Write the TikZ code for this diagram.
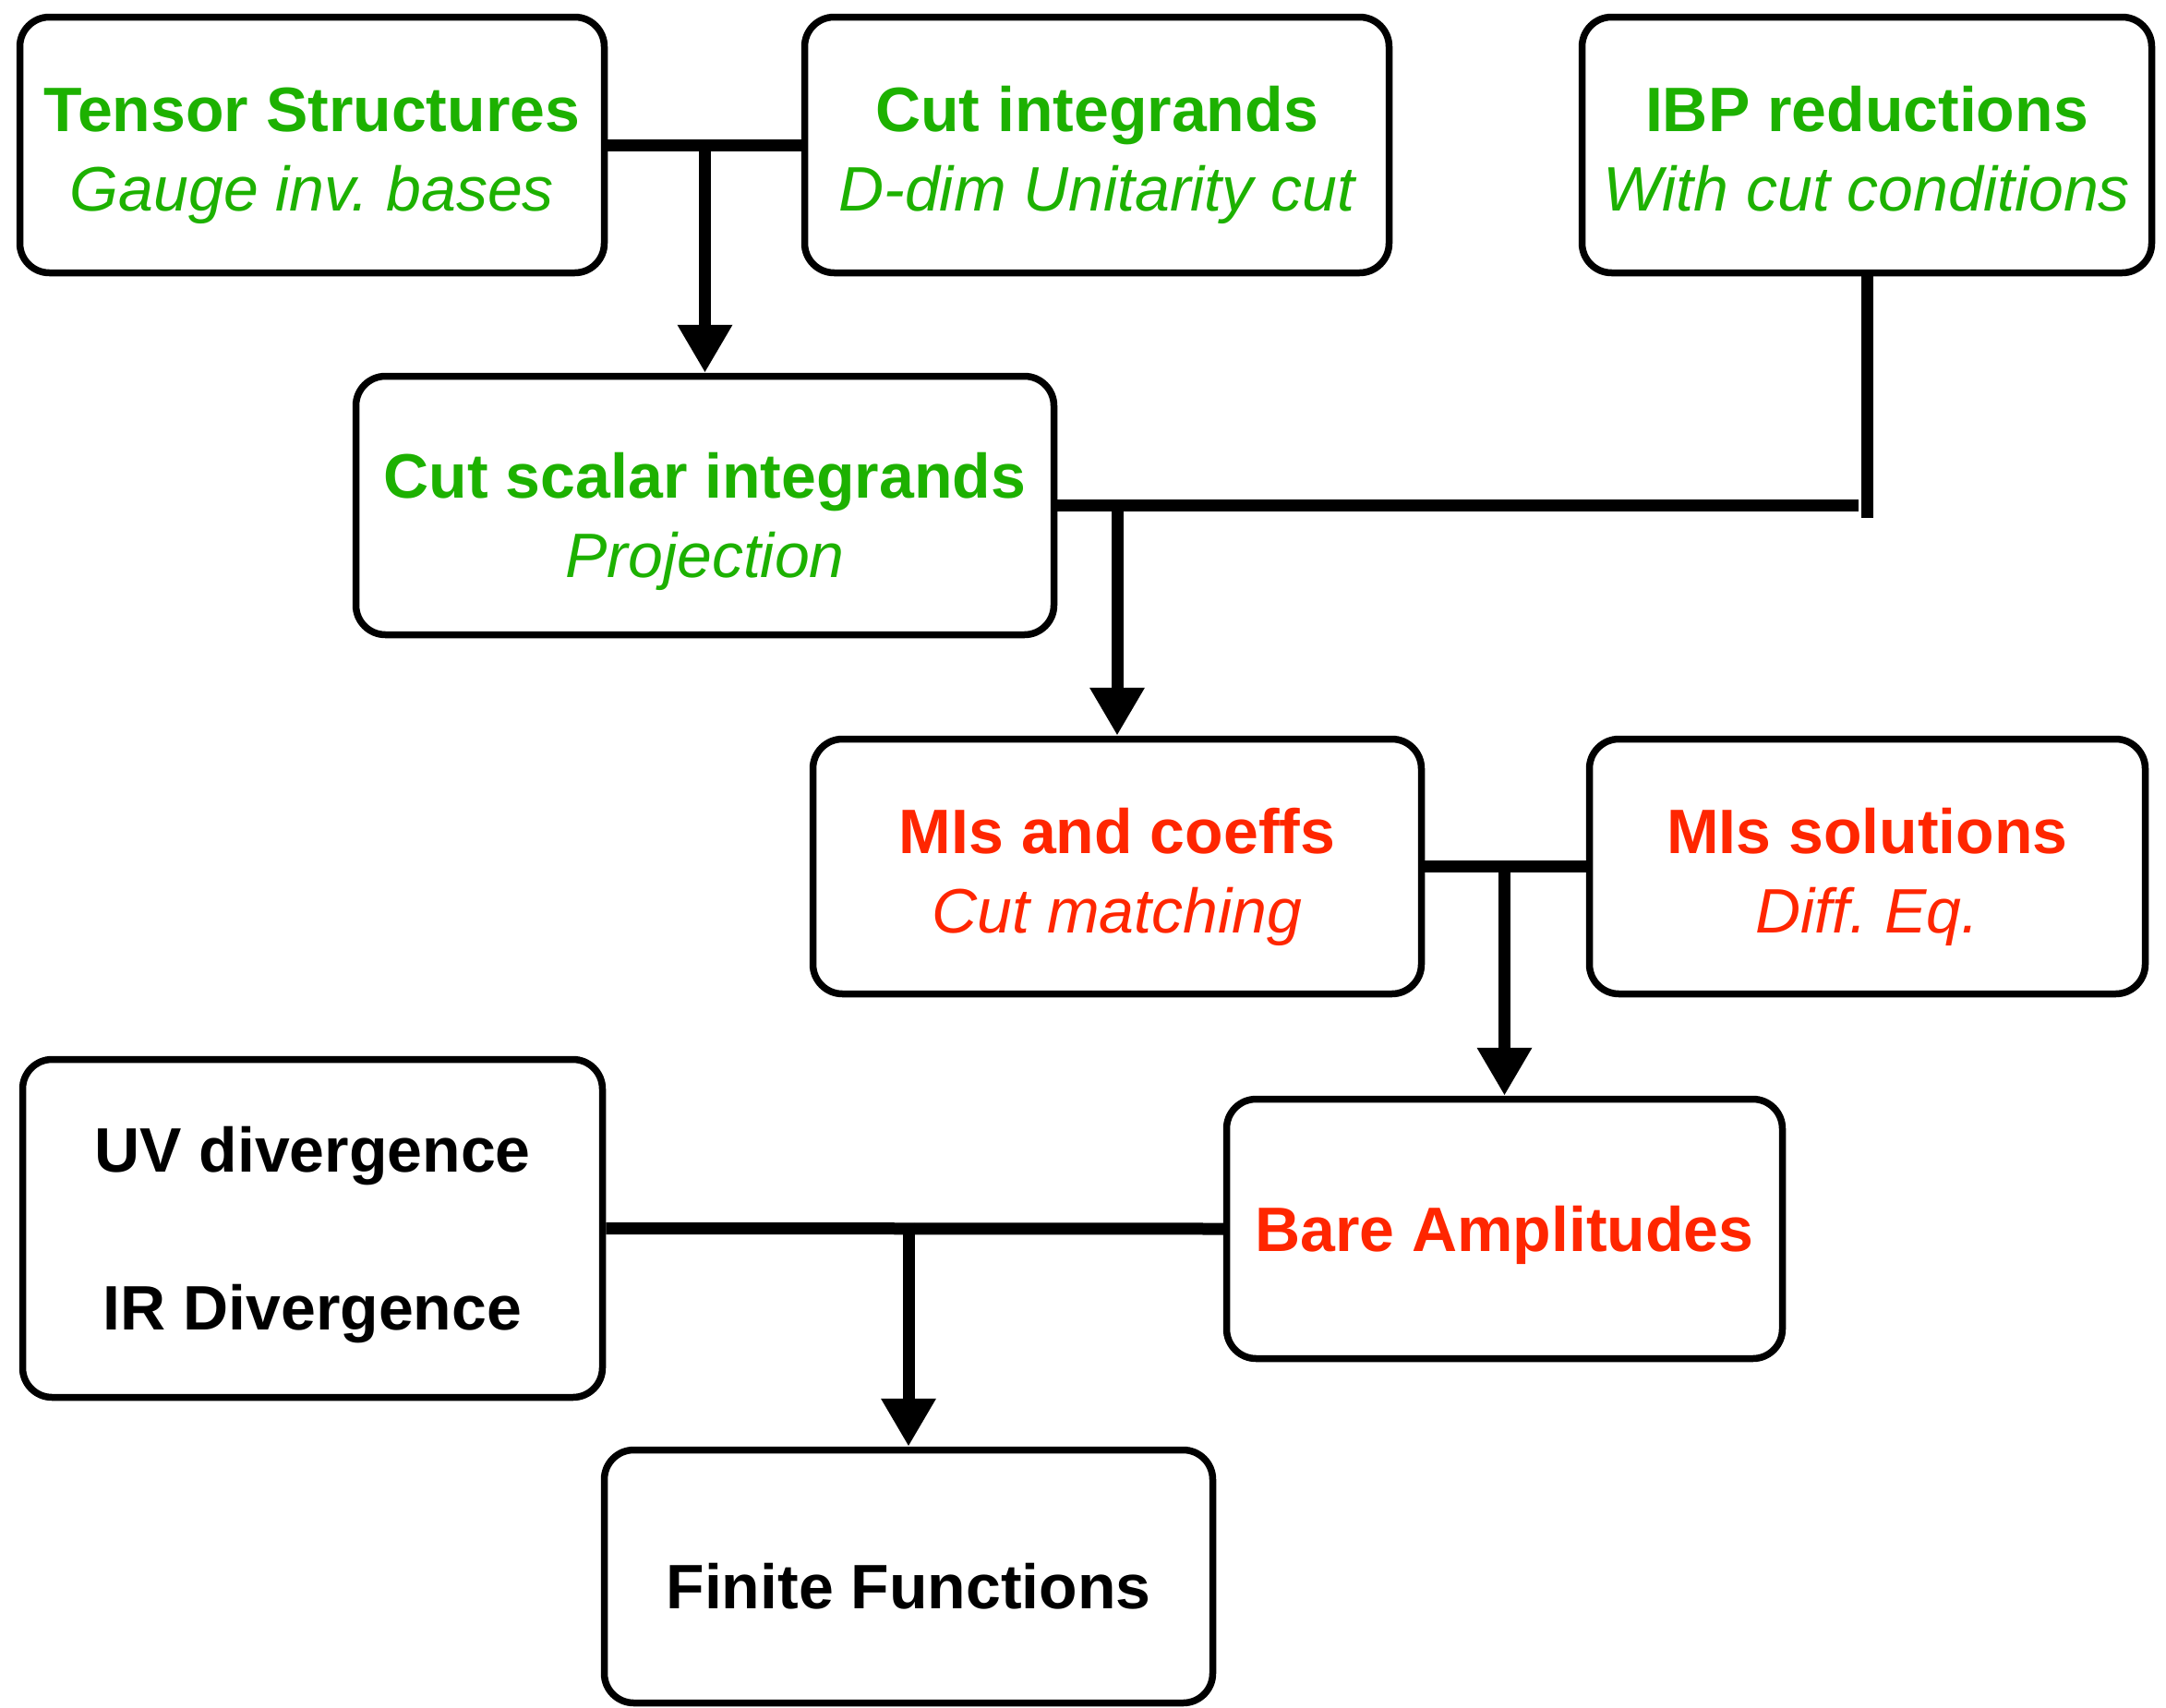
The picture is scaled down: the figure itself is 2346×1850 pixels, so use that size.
\documentclass[tikz,border=0pt]{standalone}
\usepackage{fontspec}
\setmainfont{Liberation Sans}
\usetikzlibrary{arrows.meta,calc}
\definecolor{kgreen}{HTML}{1DB100}
\definecolor{kred}{HTML}{FF2600}
\newcommand{\sub}[1]{{\mdseries\itshape #1}}
\frenchspacing
\begin{document}
\begin{tikzpicture}[x=1pt,y=-1pt,
  box/.style={draw=black, line width=7.5pt, rounded corners=32pt, fill=white,
    align=center, inner sep=0pt, text depth=0pt,
    font=\fontsize{68pt}{86pt}\selectfont\bfseries},
  twoline/.style={text height=143pt},
  greenbox/.style={box, text=kgreen},
  redbox/.style={box, text=kred},
  blackbox/.style={box, text=black},
  conn/.style={draw=black, line width=13pt},
  arr/.style={conn, -{Triangle[length=52pt,width=56pt]}}]
\fill[white] (0,0) rectangle (2346,1850);
\useasboundingbox (0,0) rectangle (2346,1850);

\node[greenbox, twoline, minimum width=633pt, minimum height=277pt] (ts) at (338,157)
  {Tensor Structures\\\sub{Gauge inv. bases}};
\node[greenbox, twoline, minimum width=633pt, minimum height=277pt] (ci) at (1188,157)
  {Cut integrands\\\sub{D-dim Unitarity cut}};
\node[greenbox, twoline, minimum width=617pt, minimum height=277pt] (ibp) at (2022,157)
  {IBP reductions\\\sub{With cut conditions}};
\node[greenbox, twoline, text height=156pt, minimum width=756pt, minimum height=280pt] (cs) at (763.5,547.5)
  {Cut scalar integrands\\\sub{Projection}};
\node[redbox, twoline, minimum width=659pt, minimum height=276pt] (mc) at (1210,938.5)
  {MIs and coeffs\\\sub{Cut matching}};
\node[redbox, twoline, minimum width=602pt, minimum height=276pt] (ms) at (2022.5,938.5)
  {MIs solutions\\\sub{Diff. Eq.}};
\node[blackbox, minimum width=628pt, minimum height=366pt] (uv) at (338.5,1330.5)
  {UV divergence\\[85pt]IR Divergence};
\node[redbox, minimum width=602pt, minimum height=281pt] (ba) at (1629.5,1331)
  {Bare Amplitudes};
\node[blackbox, minimum width=659pt, minimum height=274pt, text height=69pt] (ff) at (984,1707.5)
  {Finite Functions};

% connectors
\draw[conn] (ts.east) -- (ci.west);
\draw[arr] ([yshift=6pt]cs.north |- ts.east) -- (cs.north);

\draw[conn] (ibp.south) -- ([yshift=-13pt]ibp.south |- cs.east);
\draw[conn] (cs.east) -- ([xshift=-9pt]ibp.south |- cs.east);
\draw[arr] ([yshift=6pt]mc.north |- cs.east) -- (mc.north);

\draw[conn] (mc.east) -- (ms.west);
\draw[arr] ([yshift=6pt]ba.north |- mc.east) -- (ba.north);

\draw[conn] (uv.east) -- (ba.west);
\draw[arr] ([yshift=6pt]ff.north |- uv.east) -- (ff.north);
\end{tikzpicture}
\end{document}
